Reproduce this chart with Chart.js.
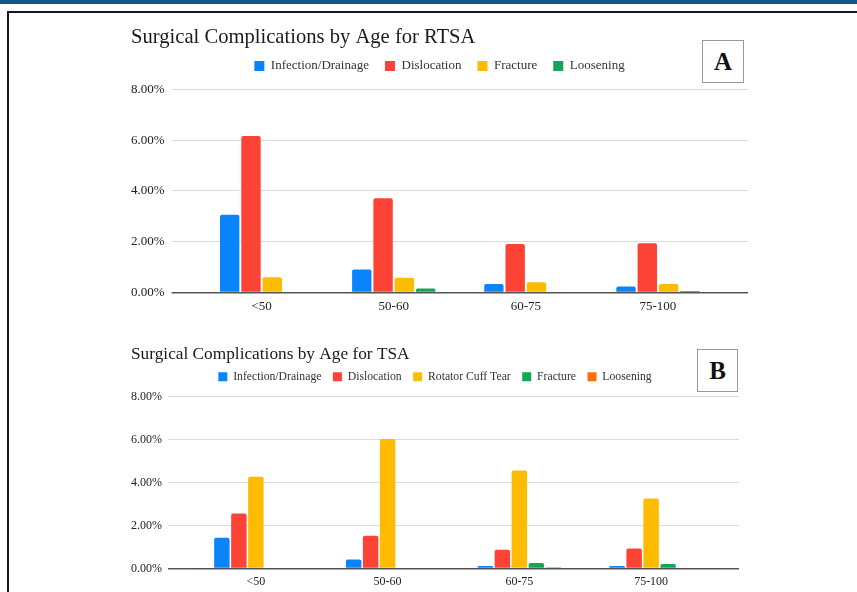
<!DOCTYPE html>
<html>
<head>
<meta charset="utf-8">
<script src="https://cdn.jsdelivr.net/npm/chart.js@4.4.0/dist/chart.umd.min.js"></script>
<style>
  body { margin: 0; background: #fff; width: 857px; height: 592px; overflow: hidden; position: relative; }
  .band { position: absolute; left: 0; top: 0; width: 857px; height: 4px; background: #0b5a86; }
  .frame { position: absolute; left: 7px; top: 11px; width: 900px; height: 700px; border: 2px solid #161616; }
  .wrap { position: absolute; }
  .tag { position: absolute; border: 1px solid #999; background: #fff; box-sizing: border-box;
         font: bold 25px "Liberation Serif", serif; color: #111; text-align: center; }
</style>
</head>
<body>
<div class="band"></div>
<div class="frame"></div>

<div class="wrap" style="left:121px; top:18px; width:637px; height:302px;"><canvas id="chartA"></canvas></div>
<div class="wrap" style="left:121px; top:335px; width:628px; height:260px;"><canvas id="chartB"></canvas></div>

<div class="tag" style="left:702px; top:40px; width:42px; height:43px; line-height:41px;">A</div>
<div class="tag" style="left:697px; top:349px; width:41px; height:43px; line-height:41px;">B</div>

<script>
// age groups
const ageGroups = ['<50', '50-60', '60-75', '75-100'];
const yTicksMax = 8;

// RTSA (panel A), percent
const rtsaInfection = [3.06, 0.90, 0.33, 0.23];
const rtsaDislocation = [6.17, 3.71, 1.91, 1.94];
const rtsaFracture = [0.60, 0.58, 0.40, 0.33];
const rtsaLoosening = [0, 0.15, 0, 0.06];

// TSA (panel B), percent
const tsaInfection = [1.43, 0.42, 0.12, 0.12];
const tsaDislocation = [2.57, 1.53, 0.88, 0.93];
const tsaCuffTear = [4.28, 6.03, 4.56, 3.26];
const tsaFracture = [0, 0, 0.26, 0.21];
const tsaLoosening = [0, 0, 0.06, 0];

const BLUE = '#0a84fb', RED = '#fd4336', YELLOW = '#fdbb02', GREEN = '#0fa655', ORANGE = '#fd6d0a';
const serif = '"Liberation Serif", "Times New Roman", serif';

// push the plot area a bit further below the legend
const legendGap = {
  id: 'legendGap',
  beforeInit(chart, args, opts) {
    const fit = chart.legend.fit;
    chart.legend.fit = function () {
      fit.bind(chart.legend)();
      this.height += opts.extra || 0;
    };
  }
};

function makeChart(id, title, sets, s) {
  const gridColor = c => c.tick && c.tick.value === 0 ? '#555' : '#dcdcdc';
  const gridWidth = c => c.tick && c.tick.value === 0 ? 1.5 : 1;
  return new Chart(document.getElementById(id), {
    type: 'bar',
    data: {
      labels: ageGroups,
      datasets: sets.map(d => ({
        label: d[0],
        data: d[1],
        backgroundColor: d[2],
        borderRadius: 2,
        borderSkipped: 'bottom',
        categoryPercentage: 0.645,
        barPercentage: 0.91
      }))
    },
    options: {
      responsive: true,
      maintainAspectRatio: false,
      animation: false,
      layout: { padding: { left: 10, right: 10, top: 0, bottom: 0 } },
      plugins: {
        title: {
          display: true,
          text: title,
          align: 'start',
          color: '#1a1a1a',
          font: { family: serif, size: s.titleSize, weight: 'normal', lineHeight: 1 },
          padding: { top: s.titleTop, bottom: s.titleBottom }
        },
        legend: {
          position: 'top',
          labels: {
            color: '#333',
            boxWidth: s.box,
            boxHeight: s.box,
            padding: s.legendPad,
            font: { family: serif, size: s.legendSize }
          }
        },
        legendGap: { extra: s.gap },
        tooltip: { enabled: false }
      },
      scales: {
        x: {
          grid: { display: false, drawTicks: false },
          border: { display: false },
          ticks: { color: '#222', padding: s.xPad, font: { family: serif, size: s.tickSize } }
        },
        y: {
          min: 0,
          max: yTicksMax,
          border: { display: false },
          grid: { drawTicks: true, tickLength: s.ext, color: gridColor, lineWidth: gridWidth },
          ticks: {
            stepSize: 2,
            padding: s.yPad,
            color: '#222',
            font: { family: serif, size: s.tickSize },
            callback: v => v.toFixed(2) + '%'
          },
          // labels sit flush with the title, no padding on their left
          afterFit: scale => { scale.width -= s.yPad; }
        },
        y2: {
          position: 'right',
          min: 0,
          max: yTicksMax,
          border: { display: false },
          grid: { drawOnChartArea: false, drawTicks: true, tickLength: s.ext, color: gridColor, lineWidth: gridWidth },
          ticks: { display: false, stepSize: 2 }
        }
      }
    },
    plugins: [legendGap]
  });
}

makeChart('chartA', 'Surgical Complications by Age for RTSA', [
  ['Infection/Drainage', rtsaInfection, BLUE],
  ['Dislocation', rtsaDislocation, RED],
  ['Fracture', rtsaFracture, YELLOW],
  ['Loosening', rtsaLoosening, GREEN]
], { titleSize: 20.6, titleTop: 9.7, titleBottom: -4.8, legendSize: 13, box: 10, legendPad: 16,
     gap: 7, tickSize: 13, xPad: 6, yPad: 7, ext: 24 });

makeChart('chartB', 'Surgical Complications by Age for TSA', [
  ['Infection/Drainage', tsaInfection, BLUE],
  ['Dislocation', tsaDislocation, RED],
  ['Rotator Cuff Tear', tsaCuffTear, YELLOW],
  ['Fracture', tsaFracture, GREEN],
  ['Loosening', tsaLoosening, ORANGE]
], { titleSize: 17.3, titleTop: 10.8, titleBottom: -3.6, legendSize: 11.7, box: 9, legendPad: 11.5,
     gap: 4, tickSize: 12, xPad: 6, yPad: 6, ext: 22 });
</script>
</body>
</html>
